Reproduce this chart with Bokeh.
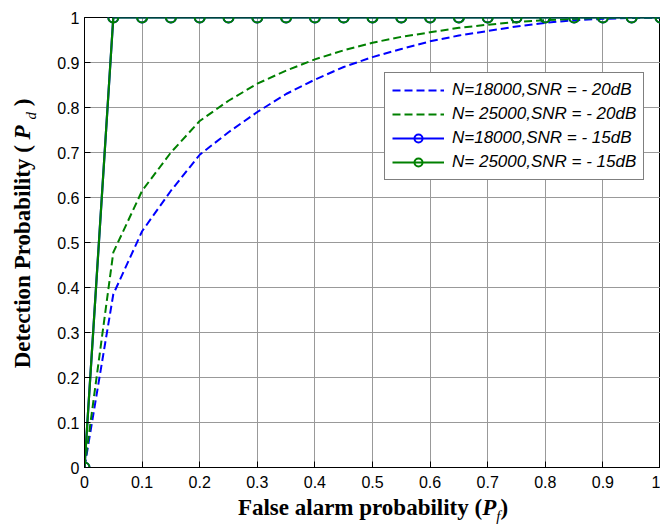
from bokeh.plotting import figure
from bokeh.models import Range1d, FixedTicker, Legend, LegendItem, Div
from bokeh.layouts import row, column
from bokeh.embed import file_html
from bokeh.resources import INLINE

# ---------------- data ----------------
pf = [0.0, 0.05, 0.1, 0.15, 0.2, 0.25, 0.3, 0.35, 0.4, 0.45, 0.5,
      0.55, 0.6, 0.65, 0.7, 0.75, 0.8, 0.85, 0.9, 0.95, 1.0]
pd_n18000_snr20 = [0.0, 0.385, 0.525, 0.615, 0.695, 0.745, 0.79, 0.83, 0.862, 0.89, 0.912,
                   0.93, 0.947, 0.96, 0.97, 0.98, 0.988, 0.994, 0.997, 0.999, 1.0]
pd_n25000_snr20 = [0.0, 0.478, 0.615, 0.70, 0.77, 0.815, 0.853, 0.882, 0.907, 0.927, 0.944,
                   0.957, 0.967, 0.977, 0.984, 0.99, 0.994, 0.997, 0.999, 1.0, 1.0]
pd_n18000_snr15 = [0.0, 1.0, 1.0, 1.0, 1.0, 1.0, 1.0, 1.0, 1.0, 1.0, 1.0,
                   1.0, 1.0, 1.0, 1.0, 1.0, 1.0, 1.0, 1.0, 1.0, 1.0]
pd_n25000_snr15 = [0.0, 1.0, 1.0, 1.0, 1.0, 1.0, 1.0, 1.0, 1.0, 1.0, 1.0,
                   1.0, 1.0, 1.0, 1.0, 1.0, 1.0, 1.0, 1.0, 1.0, 1.0]

series_labels = ["N=18000,SNR = - 20dB", "N= 25000,SNR = - 20dB",
                 "N=18000,SNR = - 15dB", "N= 25000,SNR = - 15dB"]

tick_values = [0, 0.1, 0.2, 0.3, 0.4, 0.5, 0.6, 0.7, 0.8, 0.9, 1]
tick_labels = ["0", "0.1", "0.2", "0.3", "0.4", "0.5", "0.6", "0.7", "0.8", "0.9", "1"]

BLUE = "#0000ff"
GREEN = "#008000"

# ---------------- figure ----------------
p = figure(width=616, height=497, output_backend="svg", toolbar_location=None,
           x_range=Range1d(0, 1), y_range=Range1d(0, 1),
           min_border_left=40, min_border_right=0, min_border_top=17, min_border_bottom=30)
p.background_fill_color = "white"
p.border_fill_color = "white"
p.outline_line_color = "black"
p.outline_line_width = 1

for ax in (p.xaxis[0], p.yaxis[0]):
    ax.ticker = FixedTicker(ticks=tick_values)
    ax.major_label_overrides = dict(zip(tick_values, tick_labels))
    ax.major_tick_in = 6
    ax.major_tick_out = 0
    ax.minor_tick_line_color = None
    ax.axis_line_color = "black"
    ax.major_tick_line_color = "black"
    ax.major_label_text_font = "Liberation Sans"
    ax.major_label_text_font_size = "16px"
    ax.major_label_text_color = "black"
p.xaxis.major_label_standoff = 8
p.yaxis.major_label_standoff = 5

p.xgrid.ticker = FixedTicker(ticks=tick_values)
p.ygrid.ticker = FixedTicker(ticks=tick_values)
p.grid.grid_line_color = "#999999"
p.grid.grid_line_width = 1

# ---------------- series ----------------
r1 = p.line(pf, pd_n18000_snr20, line_color=BLUE, line_width=2, line_dash="8 4")
r2 = p.line(pf, pd_n25000_snr20, line_color=GREEN, line_width=2, line_dash="8 4")
r3l = p.line(pf, pd_n18000_snr15, line_color=BLUE, line_width=2.2)
r3m = p.scatter(pf, pd_n18000_snr15, marker="circle", size=10, fill_color=None,
                line_color=BLUE, line_width=2)
r4l = p.line(pf, pd_n25000_snr15, line_color=GREEN, line_width=2.2)
r4m = p.scatter(pf, pd_n25000_snr15, marker="circle", size=10, fill_color=None,
                line_color=GREEN, line_width=2)

legend = Legend(items=[
    LegendItem(label=series_labels[0], renderers=[r1]),
    LegendItem(label=series_labels[1], renderers=[r2]),
    LegendItem(label=series_labels[2], renderers=[r3l, r3m]),
    LegendItem(label=series_labels[3], renderers=[r4l, r4m]),
], location=(300, 287))
legend.border_line_color = "black"
legend.border_line_width = 1
legend.background_fill_color = "white"
legend.background_fill_alpha = 1
legend.label_text_font = "Liberation Sans"
legend.label_text_font_style = "italic"
legend.label_text_font_size = "17px"
legend.label_text_color = "black"
legend.glyph_width = 52
legend.glyph_height = 20
legend.label_height = 20
legend.spacing = 4
legend.padding = 7
legend.label_standoff = 8
legend.margin = 0
p.add_layout(legend)

# ---------------- axis titles (HTML so that italic P and subscripts are real text) ----------------
TITLE_STYLE = ("font-family:'Liberation Serif'; font-size:23px; font-weight:bold; "
               "color:black; white-space:nowrap;")
SUB_STYLE = "font-size:15px; font-weight:normal; font-style:italic;"

y_title_html = (
    '<div style="width:467px; height:44px; line-height:46px; text-align:center; '
    'transform-origin:0 0; transform:translate(0px, 467px) rotate(-90deg); ' + TITLE_STYLE + '">'
    'Detection Probability ( <i>P</i> <sub style="' + SUB_STYLE + '">d</sub> )</div>'
)
x_title_html = (
    '<div style="width:660px; height:30px; line-height:21px; padding-left:86px; '
    'box-sizing:border-box; text-align:center; ' + TITLE_STYLE + '">'
    'False alarm probability (<i>P</i><sub style="' + SUB_STYLE + '">f</sub>)</div>'
)

y_title = Div(text=y_title_html, width=44, height=497, margin=0)
x_title = Div(text=x_title_html, width=660, height=30, margin=0)

layout = column(row(y_title, p, spacing=0), x_title, spacing=0)

open("out.html", "w").write(file_html(layout, INLINE))
